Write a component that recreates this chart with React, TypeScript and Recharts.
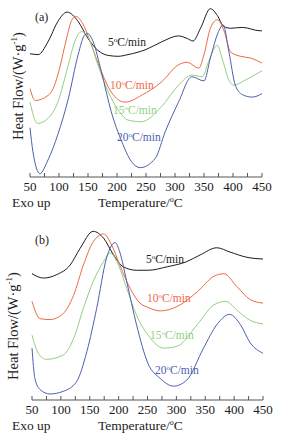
import React from 'react';
import { LineChart, Line, XAxis, YAxis } from 'recharts';

const FONT = '"Liberation Serif", "DejaVu Serif", serif';

const xTicks = [50, 75, 100, 125, 150, 175, 200, 225, 250, 275, 300, 325, 350, 375, 400, 425, 450];

// panel (a) — temperatures (°C) and heat flow (arb. units, exo up)
const a5T = [50, 64, 81, 98, 114, 133, 150, 167, 185, 202, 219, 250, 277, 306, 321, 331, 344, 361, 373, 384, 396, 416, 447, 450];
const a5V = [72.5, 72, 79.5, 91.5, 97, 91.5, 81.5, 74.5, 71.5, 71, 72, 75, 79.5, 83, 81.5, 80, 87.5, 99, 95, 88.5, 87.5, 88, 86, 86];
const a10T = [50, 59, 81, 90, 101, 113, 121, 129, 142, 155, 173, 190, 214, 242, 277, 306, 321, 341, 350, 361, 373, 384, 396, 413, 430, 450];
const a10V = [52, 45, 48, 52, 64, 81.5, 91.5, 94.5, 89.5, 78.5, 62, 50, 44, 48, 56, 66, 67.5, 64, 72, 87.5, 92.5, 86.5, 73.5, 71, 70, 67];
const a15T = [50, 63, 81, 98, 116, 127, 139, 150, 167, 185, 202, 219, 242, 277, 306, 329, 347, 358, 373, 381, 393, 401, 421, 450];
const a15V = [44, 31.5, 34.5, 44, 66, 79.5, 85.5, 82.5, 66, 50, 39.5, 33.5, 32.5, 41.5, 54, 60, 59, 68, 77.5, 70, 57, 54, 57, 62.5];
const a20T = [50, 55, 67, 81, 98, 116, 133, 144, 149, 159, 173, 190, 208, 225, 240, 266, 283, 306, 329, 350, 361, 375, 383, 393, 404, 416, 433, 450];
const a20V = [29, 15, 2, 10, 25, 46, 72, 83.5, 84.5, 79.5, 62, 38.5, 21, 9, 5.5, 11, 26.5, 44, 59, 56.5, 70, 85.5, 89.5, 73.5, 54, 48.5, 47, 49];

// panel (b)
const b5T = [50, 70, 93, 116, 133, 156, 174, 191, 208, 231, 251, 284, 318, 342, 370, 393, 422, 450];
const b5V = [73, 70.5, 72.5, 78, 87.5, 97.5, 93.5, 84, 77, 75, 75, 77, 80, 84, 88, 85.5, 82.5, 81.5];
const b10T = [50, 64, 81, 104, 122, 139, 156, 174, 188, 202, 220, 237, 251, 272, 301, 336, 365, 382, 405, 428, 450];
const b10V = [57, 47, 46.5, 50, 60.5, 78, 91.5, 96, 89.5, 78, 64.5, 56, 53.5, 51.5, 54, 62.5, 71.5, 73, 65.5, 58, 56];
const b15T = [50, 61, 75, 104, 122, 139, 156, 174, 185, 197, 214, 231, 251, 278, 301, 336, 365, 385, 408, 428, 450];
const b15V = [37.5, 27, 23.5, 26, 35.5, 53, 68.5, 80, 85, 80, 64.5, 49, 37.5, 30, 31, 43.5, 55, 57, 51, 46, 44];
const b20T = [50, 55, 64, 81, 104, 127, 145, 162, 179, 194, 202, 214, 231, 251, 272, 295, 318, 347, 370, 392, 411, 428, 450];
const b20V = [30, 12.5, 6, 3.5, 5, 10.5, 28, 53, 82, 91, 85.5, 68.5, 43.5, 21, 12.5, 8, 11.5, 30, 43.5, 49.5, 43.5, 33, 27];

const rates = ['5', '10', '15', '20'];
const colors = ['#1c1c1c', '#ee6845', '#92cf82', '#4d5fae'];

const zip = (t: number[], v: number[]) => t.map((x, i) => ({ t: x, v: v[i] }));

type PanelProps = {
  top: number;
  height: number;
  margin: { top: number; left: number; right: number; bottom: number };
  series: { t: number[]; v: number[] }[];
};

function Panel({ top, height, margin, series }: PanelProps) {
  return (
    <div style={{ position: 'absolute', left: 0, top, width: 281, height, fontFamily: FONT }}>
      <LineChart width={281} height={height} margin={margin} style={{ fontFamily: FONT }}>
        <XAxis
          xAxisId="b"
          type="number"
          dataKey="t"
          domain={[50, 450]}
          ticks={xTicks}
          interval={0}
          tickFormatter={(v: number) => (v % 50 === 0 ? String(v) : '')}
          tickSize={-4}
          tickMargin={8.5}
          height={30}
          stroke="#555"
          tick={{ fill: '#1a1a1a', fontSize: 13, fontFamily: FONT }}
        />
        <XAxis xAxisId="t" orientation="top" type="number" domain={[50, 450]} tick={false} tickLine={false} height={0} stroke="#555" />
        <YAxis yAxisId="l" type="number" domain={[0, 100]} tick={false} tickLine={false} width={0} stroke="#555" />
        <YAxis yAxisId="r" orientation="right" type="number" domain={[0, 100]} tick={false} tickLine={false} width={0} stroke="#555" />
        {series.map((s, i) => (
          <Line
            key={rates[i]}
            xAxisId="b"
            yAxisId="l"
            data={zip(s.t, s.v)}
            dataKey="v"
            type="monotone"
            stroke={colors[i]}
            strokeWidth={1}
            dot={false}
            isAnimationActive={false}
          />
        ))}
      </LineChart>
    </div>
  );
}

function Rate({ x, y, i }: { x: number; y: number; i: number }) {
  return (
    <text x={x} y={y} fill={colors[i]} fontSize={11.5}>
      {rates[i]}
      <tspan fontSize={7} dy={-4.5}>o</tspan>
      <tspan dy={4.5}>C/min</tspan>
    </text>
  );
}

function Frame({ yLabelX, yLabelY, axisY, tag, tagY, rateXY }: {
  yLabelX: number; yLabelY: number; axisY: number; tag: string; tagY: number; rateXY: number[][];
}) {
  return (
    <g>
      <text x={35} y={tagY} fontSize={12} fill="#222">{tag}</text>
      {rateXY.map((p, i) => <Rate key={i} x={p[0]} y={p[1]} i={i} />)}
      <text
        x={yLabelX}
        y={yLabelY}
        fontSize={14.5}
        fill="#222"
        textAnchor="middle"
        transform={`rotate(-90, ${yLabelX}, ${yLabelY})`}
      >
        Heat Flow/(W·g
        <tspan fontSize={9} dy={-6}>-1</tspan>
        <tspan dy={6}>)</tspan>
      </text>
      <text x={12} y={axisY} fontSize={13.5} fill="#222">Exo up</text>
      <text x={98} y={axisY} fontSize={13.5} fill="#222">
        Temperature/
        <tspan fontSize={8} dy={-5}>o</tspan>
        <tspan dy={5}>C</tspan>
      </text>
    </g>
  );
}

export default function App() {
  const seriesA = [
    { t: a5T, v: a5V },
    { t: a10T, v: a10V },
    { t: a15T, v: a15V },
    { t: a20T, v: a20V },
  ];
  const seriesB = [
    { t: b5T, v: b5V },
    { t: b10T, v: b10V },
    { t: b15T, v: b15V },
    { t: b20T, v: b20V },
  ];
  return (
    <div style={{ position: 'absolute', left: 0, top: 0, width: 281, height: 438, background: '#fff', fontFamily: FONT }}>
      <Panel top={0} height={215} margin={{ top: 7, left: 30, right: 19, bottom: 8 }} series={seriesA} />
      <Panel top={215} height={223} margin={{ top: 12, left: 32, right: 18, bottom: 8 }} series={seriesB} />
      <svg width={281} height={438} style={{ position: 'absolute', left: 0, top: 0, pointerEvents: 'none', fontFamily: FONT }}>
        <Frame
          yLabelX={23}
          yLabelY={86}
          axisY={207}
          tag="(a)"
          tagY={21}
          rateXY={[[108, 46], [110, 89], [113, 114], [117, 141]]}
        />
        <Frame
          yLabelX={17.5}
          yLabelY={326}
          axisY={429.5}
          tag="(b)"
          tagY={244}
          rateXY={[[146, 263], [147, 302], [150, 339], [155, 374]]}
        />
      </svg>
    </div>
  );
}
